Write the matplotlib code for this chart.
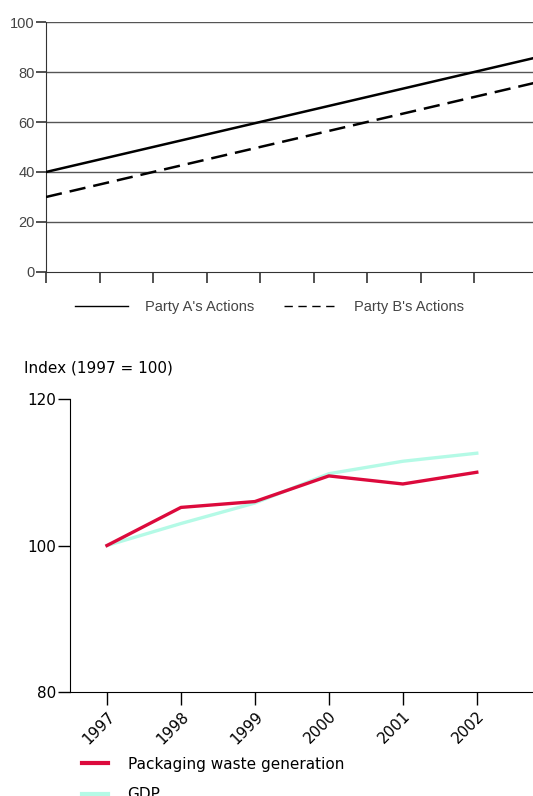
import numpy as np
import matplotlib.pyplot as plt
from matplotlib.lines import Line2D

# top chart data (positions along an unlabeled axis)
steps = [0, 1, 2, 3, 4, 5, 6, 7, 8, 9, 10]
party_a = [40, 45, 50, 55, 60, 65, 70, 75, 80, 85, 90]
party_b = [30, 35, 40, 45, 50, 55, 60, 65, 70, 75, 80]

# bottom chart data
years = [1997, 1998, 1999, 2000, 2001, 2002]
packaging = [100, 105.2, 106.0, 109.5, 108.4, 110.0]
gdp = [100, 103.0, 105.8, 109.8, 111.5, 112.6]

fig = plt.figure(figsize=(5.33, 7.96), dpi=100)

#top chart
ax1 = fig.add_axes([46/533, 1-272/796, 1-46/533, 250/796])
grey = '#444444'
for v in [20, 40, 60, 80, 100]:
    ax1.axhline(v, color='#555555', lw=1.0, zorder=1)
ax1.plot(steps, party_a, color='black', lw=1.8, zorder=3)
ax1.plot(steps, party_b, color='black', lw=1.8, ls=(0, (6.5, 3.2)), zorder=3)
ax1.set_xlim(0, 9.1)
ax1.set_ylim(0, 100)
ax1.set_xticks(range(0, 9))
ax1.set_xticklabels([])
ax1.set_yticks([0, 20, 40, 60, 80, 100])
for s in ['top', 'right']:
    ax1.spines[s].set_visible(False)
ax1.spines['left'].set_color('#333333')
ax1.spines['bottom'].set_color('#333333')
ax1.tick_params(axis='x', direction='out', length=8, width=1.2, color='#333333')
ax1.tick_params(axis='y', direction='out', length=7, width=1.2, color='#333333',
                labelsize=10.5, labelcolor=grey, pad=1)
for t in ax1.get_yticklabels():
    t.set_fontfamily('Liberation Sans')

handles1 = [Line2D([], [], color='black', lw=1.0),
            Line2D([], [], color='black', lw=1.0, ls=(0, (6, 4)))]
leg1 = fig.legend(handles1, ["Party A's Actions", "Party B's Actions"],
                  loc='center left', bbox_to_anchor=(62/533, 1-307/796), ncol=2,
                  frameon=False, handlelength=3.6, handletextpad=1.2, columnspacing=2.0,
                  prop={'family': 'Liberation Sans', 'size': 10.5})
for t in leg1.get_texts():
    t.set_color(grey)

#bottom chart
ax2 = fig.add_axes([70/533, 1-692/796, 1-70/533, 293/796])
ax2.plot(years, gdp, color='#b4fae6', lw=2.4, zorder=2)
ax2.plot(years, packaging, color='#dc0a3c', lw=2.4, zorder=3)
ax2.set_xlim(1996.5, 2002.76)
ax2.set_ylim(80, 120)
ax2.set_xticks(years)
ax2.set_yticks([80, 100, 120])
for s in ['top', 'right']:
    ax2.spines[s].set_visible(False)
ax2.tick_params(axis='both', direction='out', length=9, width=1.0, labelsize=11, pad=1)
ax2.tick_params(axis='x', pad=3)
for t in ax2.get_xticklabels():
    t.set_rotation(45)
    t.set_ha('right')
    t.set_rotation_mode('anchor')

fig.text(24/533, 1-368/796, 'Index (1997 = 100)', fontsize=11, va='center', ha='left')

handles2 = [Line2D([], [], color='#dc0a3c', lw=3),
            Line2D([], [], color='#b4fae6', lw=3)]
fig.legend(handles2, ['Packaging waste generation', 'GDP'],
           loc='upper left', bbox_to_anchor=(68/533, 1-743/796), frameon=False,
           handlelength=1.7, handletextpad=1.3, labelspacing=1.0, fontsize=11)

fig.savefig('out.png', dpi=100)
